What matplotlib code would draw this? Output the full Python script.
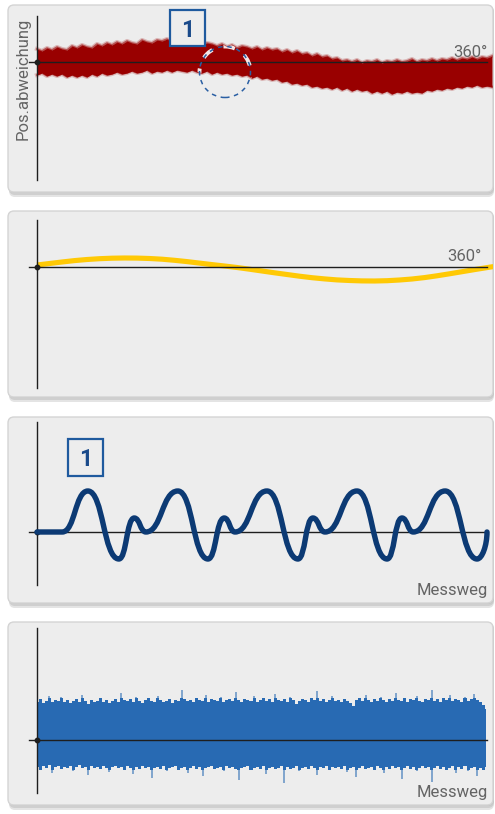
import numpy as np
import matplotlib
matplotlib.use("Agg")
import matplotlib.pyplot as plt
from matplotlib.patches import FancyBboxPatch, Rectangle, Ellipse, PathPatch
from matplotlib.path import Path
from matplotlib.transforms import IdentityTransform

plt.rcParams['font.family'] = ['Roboto', 'DejaVu Sans']

# ---------------- data ----------------
# Panel 1: noisy position deviation band over one revolution (deg)
red_deg = np.arange(0, 365, 4)
red_upper = [13, 11, 14, 12, 15, 13, 12, 16, 14, 17, 15, 14, 18, 16, 19, 17, 20, 18, 21, 19,
             18, 22, 20, 19, 22, 21, 23, 20, 22, 19, 21, 18, 20, 17, 19, 18, 16, 18, 15, 17,
             14, 16, 15, 13, 15, 12, 14, 12, 13, 10, 12, 9, 11, 8, 9, 6, 8, 5, 6, 3,
             4, 1, 2, 0, 2, -1, 1, 0, 2, -1, 1, 0, 2, 0, 1, 3, 0, 2, 1, 3,
             1, 3, 2, 4, 2, 4, 3, 5, 3, 5, 4, 6]
red_lower = [-13, -11, -14, -12, -14, -12, -15, -13, -15, -13, -15, -12, -14, -11, -13,
             -12, -10, -12, -11, -9, -11, -10, -8, -11, -9, -10, -8, -10, -8, -9, -10,
             -8, -10, -11, -9, -12, -10, -12, -11, -13, -12, -14, -13, -16, -14, -17, -16,
             -18, -17, -20, -19, -22, -21, -23, -22, -25, -24, -26, -25, -27, -25, -28,
             -26, -29, -27, -29, -28, -31, -29, -31, -29, -32, -30, -31, -29, -31, -30,
             -31, -28, -29, -27, -28, -26, -27, -25, -26, -24, -25, -23, -25, -24, -25]

# Panel 2: smoothed deviation over one revolution
yellow_deg = [0, 10, 20, 30, 40, 50, 60, 70, 80, 90, 100, 110, 120, 130, 140, 150, 160,
              170, 180, 190, 200, 210, 220, 230, 240, 250, 260, 270, 280, 290, 300, 310,
              320, 330, 340, 350, 360, 365]
yellow_dev = [2.0, 3.5, 5.0, 6.4, 7.5, 8.3, 8.8, 9.0, 8.9, 8.5, 7.8, 6.7, 5.4, 3.9, 2.4,
              1.0, -0.5, -2.2, -4.0, -5.8, -7.5, -9.2, -10.7, -11.9, -12.9, -13.5, -13.9,
              -14.0, -13.7, -13.0, -12.0, -10.6, -8.8, -6.8, -4.7, -2.6, -0.6, 0.4]

# Panel 3: periodic error along the travel (key extrema)
navy_x = [0, 5.6, 11.3, 18.2, 21.6, 24.2, 31.3, 38.0, 41.6, 44.0, 51.1, 58.0, 61.3, 64.0,
          71.1, 77.8, 81.1, 83.6, 90.7, 97.8, 100.0]
navy_y = [0, 0, 41, -27, 14, 0, 41, -27, 14, 0, 41, -27, 14, 0, 41, -27, 14, 0, 41, -27, 0]

# Panel 4: high-frequency noise along the travel
blue_upper = [38, 41, 37, 39, 44, 38, 40, 39, 43, 38,
              40, 37, 39, 41, 38, 45, 39, 36, 40, 38,
              39, 42, 38, 40, 37, 39, 41, 38, 47, 40,
              39, 41, 38, 43, 39, 37, 40, 42, 39, 38,
              44, 40, 38, 39, 41, 37, 40, 39, 50, 41,
              39, 40, 38, 42, 40, 39, 45, 38, 41, 40,
              39, 43, 38, 40, 41, 39, 48, 40, 38, 41,
              40, 39, 44, 38, 40, 42, 39, 41, 38, 46,
              40, 39, 41, 38, 43, 40, 36, 39, 41, 40,
              38, 42, 40, 49, 39, 41, 38, 40, 44, 39,
              40, 38, 41, 39, 37, 34, 40, 42, 39, 45,
              40, 38, 41, 39, 43, 40, 38, 41, 39, 47,
              40, 39, 42, 38, 41, 40, 44, 39, 38, 41,
              40, 50, 39, 41, 38, 42, 40, 45, 39, 41,
              40, 38, 43, 39, 41, 46, 40, 38, 35, 31]
blue_lower = [-27, -30, -26, -28, -25, -33, -27, -26, -29, -27,
              -28, -26, -31, -27, -25, -28, -27, -35, -26, -28,
              -27, -29, -26, -28, -32, -27, -26, -28, -27, -30,
              -26, -28, -34, -27, -29, -26, -28, -27, -38, -28,
              -27, -29, -26, -31, -28, -27, -26, -30, -28, -27,
              -33, -28, -26, -29, -27, -36, -28, -27, -26, -29,
              -28, -27, -31, -26, -28, -27, -29, -40, -28, -27,
              -26, -30, -28, -27, -29, -26, -34, -28, -27, -29,
              -28, -26, -43, -27, -29, -28, -26, -31, -28, -27,
              -29, -26, -28, -35, -27, -28, -26, -30, -27, -28,
              -27, -29, -26, -32, -28, -27, -37, -28, -26, -29,
              -28, -27, -30, -26, -28, -33, -27, -29, -26, -28,
              -27, -39, -28, -26, -29, -27, -31, -28, -26, -28,
              -27, -42, -28, -26, -29, -27, -30, -28, -26, -33,
              -27, -29, -26, -31, -28, -27, -36, -28, -30, -27]
blue_x = np.linspace(0, 99.8, len(blue_upper))

# ---------------- layout ----------------
W, H = 495, 814
fig = plt.figure(figsize=(W / 100, H / 100), dpi=100)
fig.patch.set_facecolor('white')

CARD = '#ededed'
AXC = '#1e1e1e'
TXT = '#646464'
BOXC = '#1f5a9e'

cards = [(5, 192), (211, 397), (417, 603), (622, 805)]
zeros = [62, 267, 532, 740]
vspans = [(16, 180), (220, 388), (422, 585), (628, 793)]
scales = [1.25, 1.25, 4.5, 4.5]
ends = [360, 360, 100, 100]
CL, CR = 8, 493
X0 = 37


def fx(px):
    return px / W


def fy(py):
    return 1 - py / H


axes = []
for (T, B), Z, (vt, vb), s, e in zip(cards, zeros, vspans, scales, ends):
    for off, col in [(5, '#e4e4e4'), (3, '#cfcfcf'), (1, '#c4c4c4')]:
        sh = FancyBboxPatch((CL + 1, H - B - off), CR - CL, B - T,
                            boxstyle="round,pad=0,rounding_size=6",
                            transform=IdentityTransform(), facecolor=col,
                            edgecolor='none', zorder=-3)
        fig.patches.append(sh)
    card = FancyBboxPatch((CL, H - B), CR - CL, B - T,
                          boxstyle="round,pad=0,rounding_size=6",
                          transform=IdentityTransform(), facecolor=CARD,
                          edgecolor='#d4d4d4', lw=1.0, zorder=-2)
    fig.patches.append(card)

    ax = fig.add_axes([fx(CL), fy(B), (CR - CL) / W, (B - T) / H])
    ax.set_facecolor('none')
    ax.set_xlim((CL - X0) / s, (CR - X0) / s)
    ax.set_ylim(-(B - Z), Z - T)
    for sp in ['top', 'right']:
        ax.spines[sp].set_visible(False)
    ax.spines['left'].set_position(('data', 0))
    ax.spines['left'].set_bounds(-(vb - Z), Z - vt)
    ax.spines['bottom'].set_position(('data', 0))
    ax.spines['bottom'].set_bounds((29 - X0) / s, e)
    for sp in ['left', 'bottom']:
        ax.spines[sp].set_color(AXC)
        ax.spines[sp].set_linewidth(1.0)
        ax.spines[sp].set_zorder(4)
    ax.set_xticks([])
    ax.set_yticks([])
    ax.plot([0], [0], 'o', ms=3.2, color=AXC, zorder=5, clip_on=False)
    axes.append(ax)

ax1, ax2, ax3, ax4 = axes

# Panel 1: red noisy band
RED = '#990000'
band = ax1.fill_between(red_deg, red_lower, red_upper, color=RED, lw=0, zorder=1)
ax1.plot(red_deg, red_upper, color=RED, lw=3.0, alpha=0.22, zorder=1)
ax1.plot(red_deg, red_lower, color=RED, lw=3.0, alpha=0.22, zorder=1)
ax1.plot(red_deg, red_upper, color=RED, lw=1.2, alpha=0.55, zorder=1)
ax1.plot(red_deg, red_lower, color=RED, lw=1.2, alpha=0.55, zorder=1)
circ_w = Ellipse((150.4, -10), 51 / 1.25, 51, fill=False, edgecolor='white',
                 lw=2.8, ls=(0, (3, 3)), alpha=0.9, zorder=6)
ax1.add_patch(circ_w)
circ_w.set_clip_path(band.get_paths()[0], ax1.transData)
circ_b = Ellipse((150.4, -10), 51 / 1.25, 51, fill=False, edgecolor='#2a5fa3',
                 lw=1.1, ls=(0, (3, 3)), zorder=7)
ax1.add_patch(circ_b)

# Panel 2: yellow smooth curve
ax2.plot(yellow_deg, yellow_dev, color='#ffc905', lw=3.7, solid_capstyle='butt', zorder=1)

# Panel 3: navy periodic curve built from the extrema
verts = [(navy_x[0], navy_y[0])]
codes = [Path.MOVETO]
n = len(navy_x)
for i in range(1, n):
    x0, y0 = navy_x[i - 1], navy_y[i - 1]
    x1, y1 = navy_x[i], navy_y[i]
    if y0 == y1:
        verts.append((x1, y1))
        codes.append(Path.LINETO)
    else:
        dx = x1 - x0
        c1 = (x0 + 0.5 * dx, y0)
        c2 = (x1 - 0.5 * dx, y1) if i < n - 1 else (x1, (y0 + y1) / 2)
        verts += [c1, c2, (x1, y1)]
        codes += [Path.CURVE4] * 3
navy_path = Path(verts, codes)
ax3.add_patch(PathPatch(navy_path, fill=False, edgecolor='#0c3a74', lw=3.9,
                        capstyle='round', joinstyle='round', zorder=6))

# Panel 4: blue noise band: solid core + thin lighter spikes
BLUE = '#286ab3'
bu = np.array(blue_upper, dtype=float)
bl = np.array(blue_lower, dtype=float)
core_u = np.minimum(bu, 42)
core_l = np.maximum(bl, -30)
ax4.fill_between(blue_x, core_l, core_u, step='mid', color=BLUE, lw=0, zorder=1)
top = bu > 42
bot = bl < -30
ax4.vlines(blue_x[top], core_u[top], bu[top], color=BLUE, lw=1.1, alpha=0.7, zorder=1)
ax4.vlines(blue_x[bot], bl[bot], core_l[bot], color=BLUE, lw=1.1, alpha=0.7, zorder=1)

# ---------------- texts ----------------
fig.text(fx(23), fy(18), 'Pos.abweichung', rotation=90, ha='center', va='top',
         fontsize=12, color=TXT)
fig.text(fx(487), fy(57), '360°', ha='right', va='baseline', fontsize=12, color=TXT)
fig.text(fx(481), fy(261), '360°', ha='right', va='baseline', fontsize=12, color=TXT)
fig.text(fx(488), fy(595), 'Messweg', ha='right', va='baseline', fontsize=12, color=TXT)
fig.text(fx(488), fy(797), 'Messweg', ha='right', va='baseline', fontsize=12, color=TXT)

# numbered boxes
for (bx0, by0, bx1, by1) in [(170, 10, 205, 46), (68, 439, 103, 476)]:
    r = Rectangle((bx0, H - by1), bx1 - bx0, by1 - by0, transform=IdentityTransform(),
                  facecolor=CARD, edgecolor=BOXC, lw=1.6, zorder=8)
    fig.patches.append(r)
    fig.text(fx((bx0 + bx1) / 2), fy((by0 + by1) / 2), '1', ha='center',
             va='center_baseline', fontsize=16.5, fontweight='bold', color='#1a4a8a',
             zorder=9)

fig.savefig('out.png', dpi=100, facecolor='white')
